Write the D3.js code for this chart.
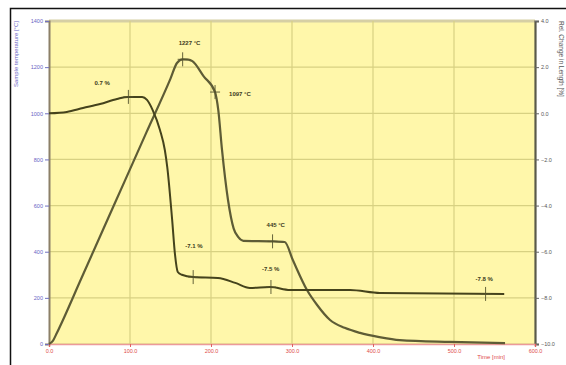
<!DOCTYPE html>
<html>
<head>
<meta charset="utf-8">
<script src="https://cdn.jsdelivr.net/npm/d3@7"></script>
<style>
  body { margin: 0; background: #fff; }
  svg { display: block; font-family: "Liberation Sans", Arial, sans-serif; }
</style>
</head>
<body>
<div id="chart"></div>
<script>
// time axis ticks [min]
const timeTicks = [0, 100, 200, 300, 400, 500, 600];
const tempTicks = [0, 200, 400, 600, 800, 1000, 1200, 1400];
const lenTicks = [-10, -8, -6, -4, -2, 0, 2, 4];

// sample temperature [°C] vs time [min]
const tempTime = [0, 5, 10, 40, 80, 120, 150, 158, 165, 172, 177, 191, 205, 209, 213.6, 221, 228, 234, 240, 276, 291, 301, 318.5, 331, 347, 365, 384, 408, 433, 495, 563];
const tempVal = [0, 15, 50, 285, 600, 915, 1150, 1218, 1234, 1233, 1226, 1160, 1092, 1014, 841, 624, 500, 462, 447, 445, 442, 364, 234, 169, 104, 70, 48, 30, 17, 9, 4];

// relative change in length [%] vs time [min]
const lenTime = [0, 22, 42, 63, 84, 97.5, 115, 121, 128, 137, 143, 146, 152, 155.6, 159, 164, 178, 208.6, 230, 248, 273, 297.5, 371.6, 408.6, 562];
const lenVal = [0, 0.06, 0.23, 0.40, 0.62, 0.71, 0.71, 0.58, 0.14, -0.72, -1.59, -2.33, -4.6, -6.14, -6.88, -7.0, -7.1, -7.14, -7.35, -7.57, -7.53, -7.66, -7.66, -7.79, -7.83];

// annotations: [time, value, label, label dx, label dy]
const tempNotes = [[165, 1234, "1227 °C", -4, -14], [205, 1092, "1097 °C", 14, 4], [276, 445, "445 °C", -6, -14]];
const lenNotes = [[98, 0.71, "0.7 %", -34, -12], [178, -7.1, "-7.1 %", -8, -29], [274, -7.53, "-7.5 %", -9, -16], [539, -7.83, "-7.8 %", -10, -13]];

const W = 566, H = 365;
const m = { left: 49, right: 31, top: 21, bottom: 21 };
const iw = W - m.left - m.right, ih = H - m.top - m.bottom;

const svg = d3.select('#chart').append('svg')
  .attr('width', W).attr('height', H);

const x = d3.scaleLinear().domain([0, 600]).range([m.left, m.left + iw]);
const yT = d3.scaleLinear().domain([0, 1400]).range([m.top + ih, m.top]);
const yL = d3.scaleLinear().domain([-10, 4]).range([m.top + ih, m.top]);

// plot background
svg.append('rect')
  .attr('x', m.left).attr('y', m.top).attr('width', iw).attr('height', ih)
  .attr('fill', '#fff7aa');

// grid
svg.append('g').selectAll('line').data(tempTicks).join('line')
  .attr('x1', m.left).attr('x2', m.left + iw)
  .attr('y1', d => yT(d)).attr('y2', d => yT(d))
  .attr('stroke', d => d === 1400 ? '#d6cfa4' : '#d8d182')
  .attr('stroke-width', d => d === 1400 ? 3 : 1.2);
svg.append('g').selectAll('line').data(timeTicks.slice(1, -1)).join('line')
  .attr('x1', d => x(d)).attr('x2', d => x(d))
  .attr('y1', m.top).attr('y2', m.top + ih)
  .attr('stroke', '#d8d182').attr('stroke-width', 1.2);

// axes
const axL = svg.append('g').attr('transform', `translate(${m.left},0)`)
  .call(d3.axisLeft(yT).tickValues(tempTicks).tickSize(4).tickPadding(2).tickFormat(d3.format('d')));
axL.select('.domain').attr('stroke', '#8c8068').attr('stroke-width', 2);
axL.selectAll('line').attr('stroke', '#7070c0');
axL.selectAll('text').attr('fill', '#6a64c4').attr('font-size', 5.5);

const axR = svg.append('g').attr('transform', `translate(${m.left + iw},0)`)
  .call(d3.axisRight(yL).tickValues(lenTicks).tickSize(4).tickPadding(2).tickFormat(d3.format('.1f')));
axR.select('.domain').attr('stroke', '#5a5a4a').attr('stroke-width', 2.2);
axR.selectAll('line').attr('stroke', '#666');
axR.selectAll('text').attr('fill', '#555').attr('font-size', 5.5);

const axB = svg.append('g').attr('transform', `translate(0,${m.top + ih})`)
  .call(d3.axisBottom(x).tickValues(timeTicks).tickSize(3).tickPadding(2).tickFormat(d3.format('.1f')));
axB.select('.domain').attr('stroke', '#ec9a9a').attr('stroke-width', 1.6);
axB.selectAll('line').attr('stroke', '#e06060');
axB.selectAll('text').attr('fill', '#e04a4a').attr('font-size', 5.5);

// axis titles
svg.append('text')
  .attr('transform', `translate(18,${m.top})rotate(-90)`)
  .attr('text-anchor', 'end').attr('font-size', 6).attr('fill', '#6a64c4')
  .text('Sample temperature [°C]');
svg.append('text')
  .attr('transform', `translate(559,${m.top})rotate(90)`)
  .attr('text-anchor', 'start').attr('font-size', 6.5).attr('fill', '#555')
  .text('Rel. Change in Length [%]');
svg.append('text')
  .attr('x', 505).attr('y', 359).attr('text-anchor', 'end')
  .attr('font-size', 6).attr('fill', '#e04a4a')
  .text('Time [min]');

// curves
const tempLine = d3.line().x(d => x(d[0])).y(d => yT(d[1])).curve(d3.curveMonotoneX);
const lenLine = d3.line().x(d => x(d[0])).y(d => yL(d[1])).curve(d3.curveMonotoneX);

svg.append('path')
  .datum(tempTime.map((t, i) => [t, tempVal[i]]))
  .attr('d', tempLine).attr('fill', 'none')
  .attr('stroke', '#5e5c36').attr('stroke-width', 2.2);
svg.append('path')
  .datum(lenTime.map((t, i) => [t, lenVal[i]]))
  .attr('d', lenLine).attr('fill', 'none')
  .attr('stroke', '#45431c').attr('stroke-width', 2);

// markers + labels
function notes(data, yScale) {
  const g = svg.append('g');
  data.forEach(([t, v, lab, dx, dy]) => {
    const px = x(t), py = yScale(v);
    g.append('line').attr('x1', px).attr('x2', px).attr('y1', py - 7).attr('y2', py + 7)
      .attr('stroke', '#55532e').attr('stroke-width', 0.9);
    g.append('line').attr('x1', px - 5).attr('x2', px + 5).attr('y1', py).attr('y2', py)
      .attr('stroke', '#55532e').attr('stroke-width', 0.9);
    g.append('text').attr('x', px + dx).attr('y', py + dy)
      .attr('font-size', 6).attr('font-weight', 'bold').attr('fill', '#3c3a20')
      .text(lab);
  });
}
notes(tempNotes, yT);
notes(lenNotes, yL);

// outer frame
svg.append('rect')
  .attr('x', 10.5).attr('y', 8.5).attr('width', 570).attr('height', 380)
  .attr('fill', 'none').attr('stroke', '#111').attr('stroke-width', 1.5);
</script>
</body>
</html>
